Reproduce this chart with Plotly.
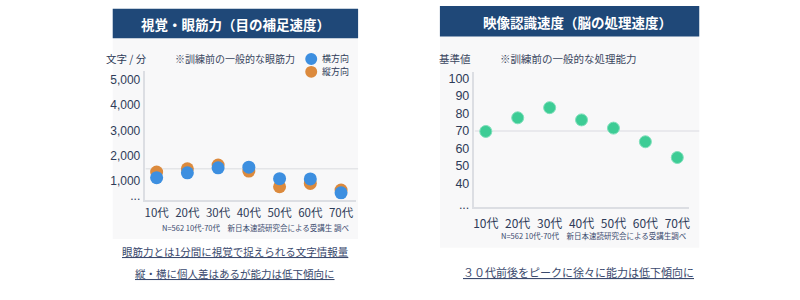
import plotly.graph_objects as go

# ---------------- data ----------------
ages = ["10代", "20代", "30代", "40代", "50代", "60代", "70代"]
horizontal = [1130, 1320, 1520, 1545, 1090, 1080, 530]   # 横方向
vertical = [1350, 1480, 1630, 1390, 770, 900, 640]       # 縦方向
recognition = [69.8, 77.6, 83.4, 76.4, 71.7, 63.9, 54.9]  # 映像認識速度

left_tickvals = [400, 1000, 2000, 3000, 4000, 5000]
left_ticktext = ["...", "1,000", "2,000", "3,000", "4,000", "5,000"]
right_tickvals = [28, 40, 50, 60, 70, 80, 90, 100]
right_ticktext = ["...", "40", "50", "60", "70", "80", "90", "100"]
left_ref = [1480]
right_ref = [70]
legend_names = ["横方向", "縦方向"]

W, H = 800, 300
def px(x):
    return x / W
def py(y):
    return 1 - y / H

NAVY = "#1f4878"
TXT = "#2e3b58"
BLUE = "#3d8fe0"
ORANGE = "#dc8a3d"
GREEN = "#3dcc95"
PANEL = "#f8f8f9"
AXL = "#dcdee3"
FONT = "Noto Sans CJK JP"

fig = go.Figure()

fig.add_trace(go.Scatter(x=ages, y=vertical, mode="markers", name=legend_names[1],
                         marker=dict(color=ORANGE, size=13), xaxis="x", yaxis="y",
                         showlegend=False))
fig.add_trace(go.Scatter(x=ages, y=horizontal, mode="markers", name=legend_names[0],
                         marker=dict(color=BLUE, size=13), xaxis="x", yaxis="y",
                         showlegend=False))
fig.add_trace(go.Scatter(x=ages, y=recognition, mode="markers", name="映像認識速度",
                         marker=dict(color=GREEN, size=12, line=dict(color="#7fe0bb", width=1)),
                         xaxis="x2", yaxis="y2", showlegend=False))

shapes = [
    # panels
    dict(type="rect", xref="paper", yref="paper", x0=px(112), x1=px(358), y0=py(243), y1=py(39),
         fillcolor=PANEL, line=dict(width=0), layer="below"),
    dict(type="rect", xref="paper", yref="paper", x0=px(440), x1=px(700), y0=py(252), y1=py(37),
         fillcolor=PANEL, line=dict(width=0), layer="below"),
    # title bars
    dict(type="rect", xref="paper", yref="paper", x0=px(112), x1=px(358), y0=py(39), y1=py(9),
         fillcolor=NAVY, line=dict(width=0), layer="below"),
    dict(type="rect", xref="paper", yref="paper", x0=px(440), x1=px(700), y0=py(37), y1=py(6),
         fillcolor=NAVY, line=dict(width=0), layer="below"),
    # reference lines
    dict(type="line", xref="paper", yref="y", x0=px(145), x1=px(358), y0=left_ref[0], y1=left_ref[0],
         line=dict(color="#e4e5e8", width=1.5), layer="below"),
    dict(type="line", xref="paper", yref="y2", x0=px(475), x1=px(700), y0=right_ref[0], y1=right_ref[0],
         line=dict(color="#e4e5e8", width=1.5), layer="below"),
    # legend markers
    dict(type="circle", xref="paper", yref="paper", x0=px(305), x1=px(317), y0=py(66), y1=py(54),
         fillcolor=BLUE, line=dict(width=0)),
    dict(type="circle", xref="paper", yref="paper", x0=px(305), x1=px(317), y0=py(79), y1=py(67),
         fillcolor=ORANGE, line=dict(width=0)),
]

def ann(text, x, y, size, color=TXT, xanchor="center", bold=False, align="center"):
    if bold:
        text = "<b>" + text + "</b>"
    return dict(text=text, x=px(x), y=py(y), xref="paper", yref="paper", showarrow=False,
                xanchor=xanchor, yanchor="middle", align=align,
                font=dict(family=FONT, size=size, color=color))

annotations = [
    ann("視覚・眼筋力（目の補足速度）", 235, 24, 13.5, "white", bold=True),
    ann("映像認識速度（脳の処理速度）", 578, 22, 13.5, "white", bold=True),
    ann("文字 / 分", 126, 60, 10.5),
    ann("※訓練前の一般的な眼筋力", 235, 60, 10, "#3a4660"),
    ann(legend_names[0], 320, 59.5, 9, xanchor="left"),
    ann(legend_names[1], 320, 73, 9, xanchor="left"),
    ann("基準値", 455, 60, 10.5, "#3a4660"),
    ann("※訓練前の一般的な処理能力", 569, 60, 10.5, "#3a4660"),
    ann("N=562 10代-70代　新日本速読研究会による受講生 調べ", 351, 231, 7.5, "#3a4a6e", xanchor="right"),
    ann("N=562 10代-70代　新日本速読研究会による受講生調べ", 690, 239, 7.5, "#3a4a6e", xanchor="right"),
    ann("<u>眼筋力とは1分間に視覚で捉えられる文字情報量</u>", 235, 256, 10.5, "#3b4a6e"),
    ann("<u>縦・横に個人差はあるが能力は低下傾向に</u>", 235, 278, 10.5, "#3b4a6e"),
    ann("<u>３０代前後をピークに徐々に能力は低下傾向に</u>", 579, 277, 11, "#3b4a6e"),
]

xcommon = dict(type="category", showline=True, linecolor=AXL, linewidth=2, showgrid=False,
               zeroline=False, ticks="", tickfont=dict(family=FONT, size=12, color=TXT), fixedrange=True)
ycommon = dict(showline=True, linecolor=AXL, linewidth=2, showgrid=False, zeroline=False, ticks="",
               tickfont=dict(family="Liberation Sans", size=12, color=TXT))

fig.update_layout(
    width=W, height=H, margin=dict(l=0, r=0, t=0, b=0),
    paper_bgcolor="white", plot_bgcolor="rgba(0,0,0,0)",
    font=dict(family=FONT),
    xaxis=dict(xcommon, domain=[px(144), px(356)], range=[-0.39, 6.49], anchor="y",
               ticklabelstandoff=2, tickfont=dict(family=FONT, size=11.5, color=TXT)),
    yaxis=dict(ycommon, domain=[py(203), py(72)], range=[261, 5357], anchor="x",
               tickvals=left_tickvals, ticktext=left_ticktext),
    xaxis2=dict(xcommon, domain=[px(474), px(690)], range=[-0.375, 6.375], anchor="y2",
                ticklabelstandoff=5),
    yaxis2=dict(ycommon, domain=[py(210), py(73)], range=[26.9, 103.9], anchor="x2",
                tickvals=right_tickvals, ticktext=right_ticktext,
                tickfont=dict(family="Liberation Sans", size=12.5, color=TXT)),
    shapes=shapes, annotations=annotations,
)

fig.write_html("out.html")
